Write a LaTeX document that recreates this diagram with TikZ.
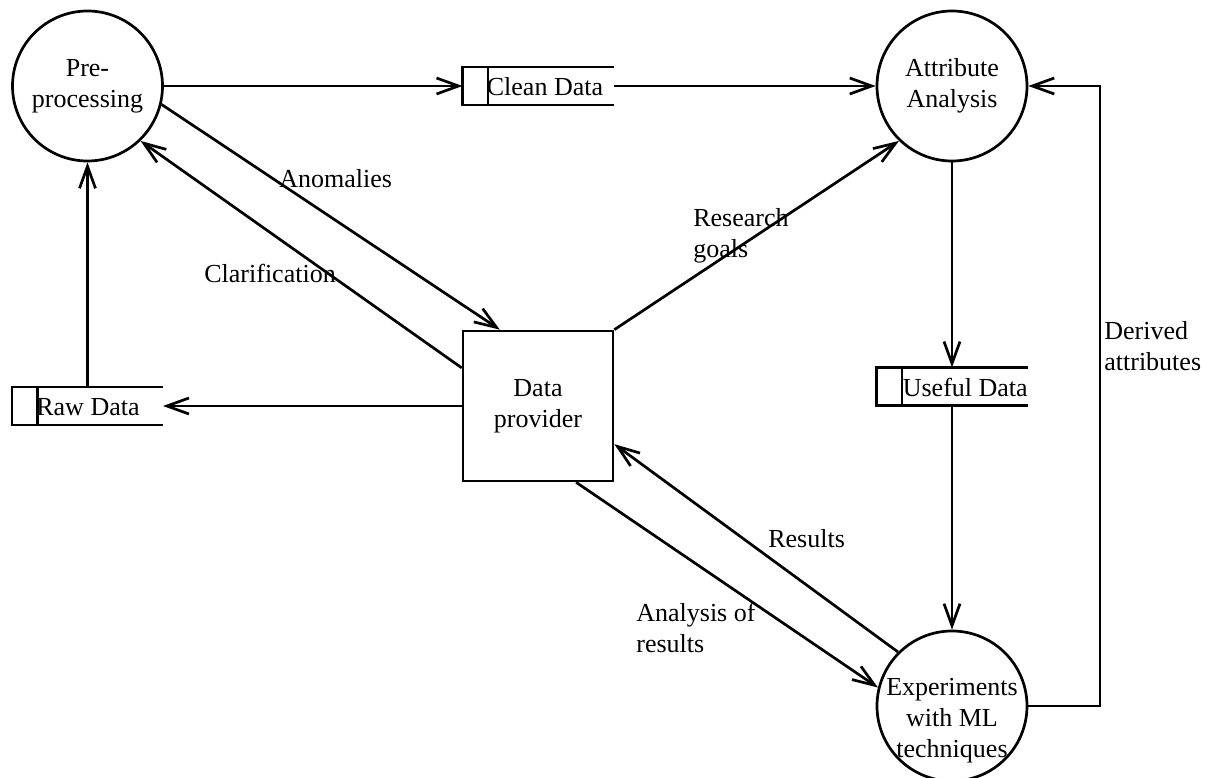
\documentclass[tikz,border=0pt]{standalone}
\usepackage{fontspec}
\setmainfont{Liberation Serif}
\usetikzlibrary{arrows.meta,calc}
% two left-aligned lines whose reference point is the first baseline
\newcommand\lblstack[2]{\vtop{\hbox{#1}\hbox{#2}}}
\begin{document}
\begin{tikzpicture}[x=1pt,y=-1pt,
  line width=2.7pt,
  >={Straight Barb[length=22pt,width=16pt]},
  every node/.style={font=\fontsize{26}{31}\selectfont},
  process/.style={circle,draw,minimum size=150pt,inner sep=0pt,align=center},
  entity/.style={rectangle,draw,minimum width=150pt,minimum height=150pt,inner sep=0pt,align=center},
  store/.style={rectangle,minimum width=151pt,minimum height=38pt,inner sep=0pt,outer sep=0pt},
  storetext/.style={anchor=west,inner sep=0pt},
  lbl/.style={anchor=base west,inner sep=0pt},
  flow/.style={->}]
\useasboundingbox (0,0) rectangle (1213,778);

% processes, external entity and data stores
\node[process] (pre)  at (87.5,86) {Pre-\\processing};
\node[process] (attr) at (952,86)  {Attribute\\Analysis};
\node[process] (exp)  at (952,706) {};
\node[align=center,inner sep=0pt] (exptext) at (952,721) {Experiments\\with ML\\techniques};
\node[entity]  (dp)   at (538,406) {Data\\provider};

\node[store] (clean)  at (538,86)    {};
\node[store] (raw)    at (87.5,406)  {};
\node[store] (useful) at (952,386.5) {};
\foreach \s in {clean,raw,useful}{
  \draw (\s.north east) -- (\s.north west) -- (\s.south west) -- (\s.south east);
  \draw ($(\s.north west)+(25.5,0)$) -- ($(\s.south west)+(25.5,0)$);
}
\node[storetext] (cleantext)  at ($(clean.west)+(23,1)$)  {Clean Data};
\node[storetext] (rawtext)    at ($(raw.west)+(23,1)$)    {Raw Data};
\node[storetext] (usefultext) at ($(useful.west)+(25,1)$) {Useful Data};

% data flows
\draw[flow] (pre.east) -- (clean.west);
\draw[flow] (clean.east) -- (attr.west);
\draw[flow] (pre.-14) -- ($(dp.north west)!0.25!(dp.north east)$);
\draw[flow] ($(dp.north west)!0.25!(dp.south west)$) -- (pre.-46);
\draw[flow] (raw.north) -- (pre.south);
\draw[flow] (dp.west) -- (raw.east);
\draw[flow] (dp.north east) -- (attr.-134);
\draw[flow] (attr.south) -- (useful.north);
\draw[flow] (useful.south) -- (exp.north);
\coordinate (loop) at (1100,706);
\draw[flow] (exp.east) -- (loop) |- (attr.east);
\draw[flow] (exp.135) -- ($(dp.north east)!0.75!(dp.south east)$);
\draw[flow] ($(dp.south west)!0.75!(dp.south east)$) -- (exp.166);

% flow labels
\node[lbl] (lanom)  at (278,188)  {Anomalies};
\node[lbl] (lclar)  at (203,282)  {Clarification};
\node[lbl] (lgoals) at (692,227)  {\lblstack{Research}{goals}};
\node[lbl] (lderiv) at (1103,339) {\lblstack{Derived}{attributes}};
\node[lbl] (lres)   at (767,547)  {Results};
\node[lbl] (lanal)  at (635,621)  {\lblstack{Analysis of}{results}};
\end{tikzpicture}
\end{document}
